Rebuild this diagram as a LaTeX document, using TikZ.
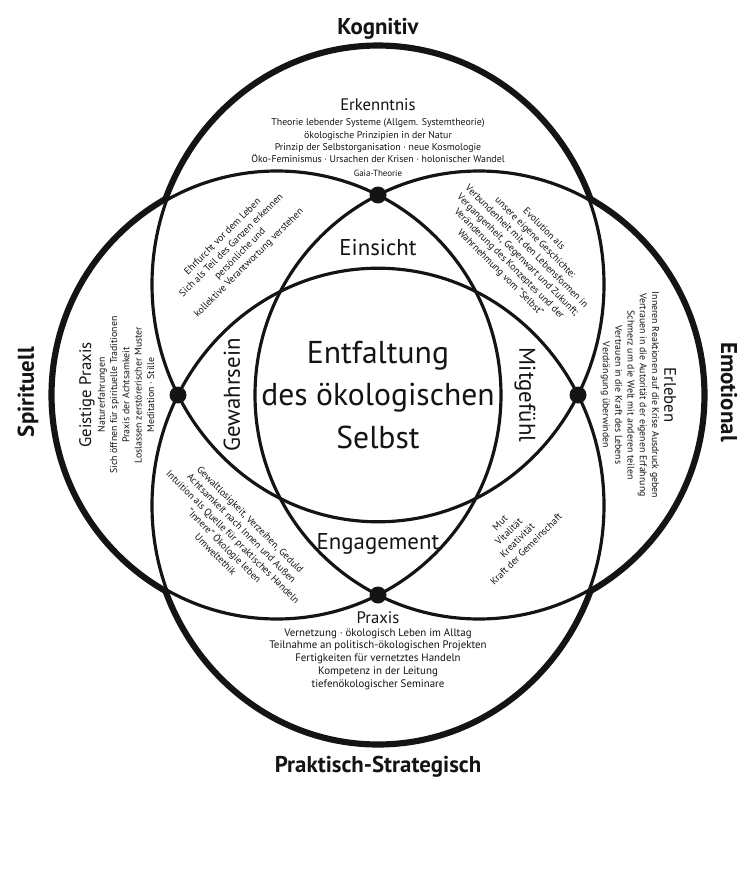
\documentclass[tikz,border=0pt]{standalone}
\usepackage{fontspec}
\setmainfont{PT Sans}
\usepackage{tikz}
\usetikzlibrary{positioning}
\definecolor{oekink}{HTML}{141414}
\tikzset{
  ring/.style  ={draw=oekink, line width=1.8pt},
  rim/.style   ={draw=oekink, line width=5.2pt},
  knot/.style  ={circle, fill=oekink, minimum size=0.34cm, inner sep=0pt},
  pole/.style  ={font=\fontsize{13}{15}\selectfont\bfseries, text=oekink},
  head/.style  ={font=\fontsize{9.5}{11}\selectfont, text=oekink, inner sep=0pt},
  body/.style  ={font=\fontsize{5.6}{7.0}\selectfont, text=oekink, align=center,
                 inner sep=0pt},
  lens/.style  ={font=\fontsize{13}{15}\selectfont, text=oekink, inner sep=0pt},
  core/.style  ={font=\fontsize{18}{24.4}\selectfont, text=oekink, align=center,
                 inner sep=0pt},
}
\begin{document}
\begin{tikzpicture}[x=0.02cm, y=-0.02cm]
  \fill[white] (0,0) rectangle (751,879);
  \useasboundingbox (0,0) rectangle (751,879);
  % centres of the four fields
  \coordinate (mid) at (378,395);
  \coordinate (ckog) at (378,284.4);
  \coordinate (cpra) at (378,505.6);
  \coordinate (cspi) at (277,395);
  \coordinate (cemo) at (479,395);
  % thick rim outside, thin rings inside
  \foreach \c/\a/\b in {ckog/226/237.4,cpra/226/237.4,cspi/224/224,cemo/224/224} {
    \draw[rim] (\c) ellipse[x radius=\a, y radius=\b];
  }
  \foreach \c/\a/\b in {ckog/226/237.4,cpra/226/237.4,cspi/224/224,cemo/224/224} {
    \fill[white] (\c) ellipse[x radius=\a, y radius=\b];
  }
  \foreach \c/\a/\b in {ckog/226/237.4,cpra/226/237.4,cspi/224/224,cemo/224/224} {
    \draw[ring] (\c) ellipse[x radius=\a, y radius=\b];
  }
  \node[knot] (ktop) at (378,195) {};
  \node[knot] (kleft) at (178,395) {};
  \node[knot] (kright) at (578,395) {};
  \node[knot] (kbot) at (378,595) {};

  % the four poles
  \node[pole] (kog) at (378,29) {Kognitiv};
  \node[pole] (pra) at (378,767) {Praktisch-Strategisch};
  \node[pole, rotate=90] (spi) at (28,392) {Spirituell};
  \node[pole, rotate=-90] (emo) at (729,392) {Emotional};

  % Erkenntnis
  \node[head] (erk) at (378,105) {Erkenntnis};
  \node[body] (erkbody) at (378,141) {Theorie lebender Systeme (Allgem. Systemtheorie)\\
    ökologische Prinzipien in der Natur\\
    Prinzip der Selbstorganisation · neue Kosmologie\\
    Öko-Feminismus · Ursachen der Krisen · holonischer Wandel};
  \node[body, font=\fontsize{5.1}{6}\selectfont] (gaia) at (378,173) {Gaia-Theorie};

  % Praxis
  \node[head] (prx) at (378,618) {Praxis};
  \node[body, font=\fontsize{6.2}{7.3}\selectfont] (prxbody) at (378,659) {Vernetzung · ökologisch Leben im Alltag\\
    Teilnahme an politisch-ökologischen Projekten\\
    Fertigkeiten für vernetztes Handeln\\
    Kompetenz in der Leitung\\
    tiefenökologischer Seminare};

  % Geistige Praxis
  \node[head, rotate=90] (gei) at (87,395) {Geistige Praxis};
  \node[body, rotate=90] (geibody) at (126,395) {Naturerfahrungen\\
    Sich öffnen für spirituelle Traditionen\\
    Praxis der Achtsamkeit\\
    Loslassen zerstörerischer Muster\\
    Meditation · Stille};

  % Erleben
  \node[head, rotate=-90] (erl) at (670,395) {Erleben};
  \node[body, rotate=-90] (erlbody) at (630,395) {Inneren Reaktionen auf die Krise Ausdruck geben\\
    Vertrauen in die Autorität der eigenen Erfahrung\\
    Schmerz um die Welt mit anderen teilen\\
    Vertrauen in die Kraft des Lebens\\
    Verdrängung überwinden};

  % diagonal fields
  \node[body, rotate=45] (ehr) at (236,250) {Ehrfurcht vor dem Leben\\
    Sich als Teil des Ganzen erkennen\\
    persönliche und\\
    kollektive Verantwortung verstehen};
  \node[body, rotate=-45] (evo) at (522,251) {Evolution als\\
    unsere eigene Geschichte:\\
    Verbundenheit mit den Lebensformen in\\
    Vergangenheit, Gegenwart und Zukunft;\\
    Veränderung des Konzeptes und der\\
    Wahrnehmung vom "Selbst"};
  \node[body, rotate=-45] (gew) at (233,537) {Gewaltlosigkeit, Verzeihen, Geduld\\
    Achtsamkeit nach Innen und Außen\\
    Intuition als Quelle für praktisches Handeln\\
    "Innere" Ökologie leben\\
    Umweltethik};
  \node[body, rotate=45] (mut) at (513,536) {Mut\\
    Vitalität\\
    Kreativität\\
    Kraft der Gemeinschaft};

  % lens labels and centre
  \node[lens] (ein) at (378,248) {Einsicht};
  \node[lens] (eng) at (378,544) {Engagement};
  \node[lens, rotate=90] (gwh) at (232,395) {Gewahrsein};
  \node[lens, rotate=-90] (mit) at (525,395) {Mitgefühl};
  \node[core] (selbst) at (mid) {Entfaltung\\des ökologischen\\Selbst};
\end{tikzpicture}
\end{document}
